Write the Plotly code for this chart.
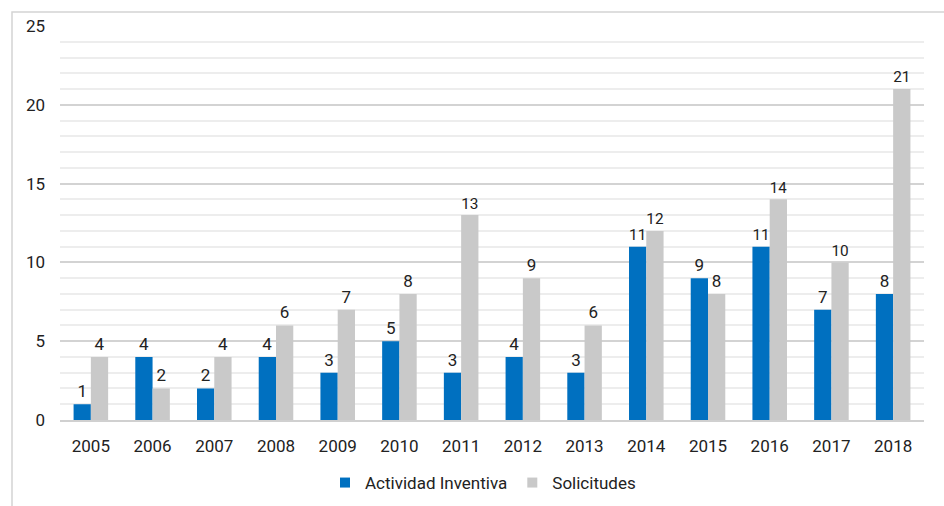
import plotly.graph_objects as go

years = ["2005", "2006", "2007", "2008", "2009", "2010", "2011",
         "2012", "2013", "2014", "2015", "2016", "2017", "2018"]
actividad_inventiva = [1, 4, 2, 4, 3, 5, 3, 4, 3, 11, 9, 11, 7, 8]
solicitudes = [4, 2, 4, 6, 7, 8, 13, 9, 6, 12, 8, 14, 10, 21]
y_ticks = [0, 5, 10, 15, 20, 25]

BLUE = "#0070C0"
GREY = "#C9C9C9"
FONT = "Roboto, Arial, sans-serif"
TEXT = "#222222"

fig = go.Figure()
fig.add_trace(go.Bar(
    x=years, y=actividad_inventiva, name="Actividad Inventiva", showlegend=False,
    marker=dict(color=BLUE, line=dict(width=0)),
    text=actividad_inventiva, textposition="outside", cliponaxis=False,
    textfont=dict(size=17, color=TEXT, family=FONT),
))
fig.add_trace(go.Bar(
    x=years, y=solicitudes, name="Solicitudes", showlegend=False,
    marker=dict(color=GREY, line=dict(width=0)),
    text=solicitudes, textposition="outside", cliponaxis=False,
    textfont=dict(size=17, color=TEXT, family=FONT),
))
# small square legend keys
for name, col in [("Actividad Inventiva", BLUE), ("Solicitudes", GREY)]:
    fig.add_trace(go.Scatter(
        x=[None], y=[None], mode="markers", name=name,
        marker=dict(symbol="square", size=10, color=col),
    ))

# outer frame around the chart area
L, R, T, B = 60, 20, 26, 86
W, H = 944, 506
pw, ph = W - L - R, H - T - B
fig.add_shape(type="rect", xref="paper", yref="paper",
              x0=(12 - L) / pw, x1=(W + 4 - L) / pw,
              y0=(H - B - (H + 4)) / ph, y1=(H - B - 12) / ph,
              line=dict(color="#D4D4D4", width=1.5), fillcolor="rgba(0,0,0,0)",
              layer="below")

fig.update_layout(
    width=W, height=H,
    margin=dict(l=L, r=R, t=T, b=B, autoexpand=False),
    paper_bgcolor="white", plot_bgcolor="white",
    barmode="group", bargap=0.44, bargroupgap=0,
    font=dict(family=FONT, size=17, color=TEXT),
    showlegend=True,
    legend=dict(orientation="h", x=(483 - L) / pw, xanchor="center",
                yref="container", y=(H - 483) / H, yanchor="middle",
                font=dict(size=17, color=TEXT, family=FONT),
                itemwidth=30, tracegroupgap=0, bgcolor="rgba(0,0,0,0)"),
    xaxis=dict(showgrid=False, ticks="", showline=True, linecolor="#D0D0D0",
               linewidth=1.5, ticklabelstandoff=10, automargin=False,
               tickfont=dict(size=17, color=TEXT, family=FONT)),
    yaxis=dict(range=[0, 25], tickvals=y_ticks, showgrid=True,
               gridcolor="#D3D3D3", gridwidth=1.5, zeroline=False,
               showline=False, ticks="", ticklabelstandoff=14, automargin=False,
               tickfont=dict(size=17, color=TEXT, family=FONT),
               minor=dict(dtick=1, showgrid=True, gridcolor="#EDEDED", gridwidth=1.5)),
)

fig.write_html("out.html")
